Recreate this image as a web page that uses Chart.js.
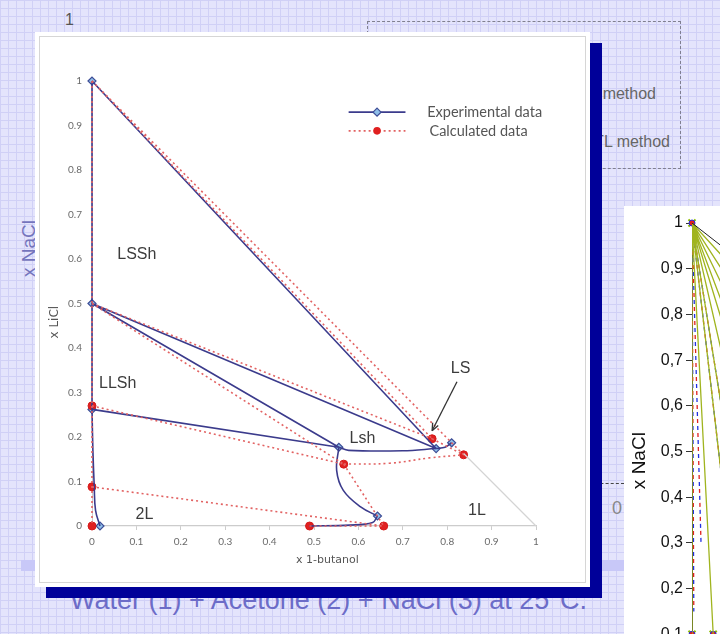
<!DOCTYPE html>
<html><head><meta charset="utf-8">
<script src="https://cdn.jsdelivr.net/npm/chart.js@4.4.0/dist/chart.umd.min.js"></script>
<style>
html,body{margin:0;padding:0;width:720px;height:634px;overflow:hidden;}
body{position:relative;background-color:#e4e4fc;
background-image:linear-gradient(to right,#d0d0f6 1px,transparent 1px),linear-gradient(to bottom,#d0d0f6 1px,transparent 1px);
background-size:8px 8px;font-family:"Liberation Sans",Arial,sans-serif;}
.abs{position:absolute;}
</style></head>
<body>
<div class="abs" style="left:3px;top:237px;width:52px;height:28px;line-height:28px;font-size:19px;color:#7474bc;transform:rotate(-90deg);white-space:nowrap;text-align:center;">x NaCl</div>
<div class="abs" style="left:65px;top:11px;font-size:16px;color:#555;">1</div>
<div class="abs" style="left:367px;top:21px;width:312px;height:146px;border:1px dashed #808090;"></div>
<div class="abs" style="left:380px;top:85px;width:276px;text-align:right;font-size:16px;color:#666;white-space:nowrap;">Direct method</div>
<div class="abs" style="left:380px;top:133px;width:290px;text-align:right;font-size:16px;color:#666;white-space:nowrap;">NRTL method</div>
<div class="abs" style="left:585px;top:483px;width:39px;height:0;border-top:1px dashed #444;"></div>
<div class="abs" style="left:612px;top:498px;font-size:18px;color:#888;">0</div>
<div class="abs" style="left:70px;top:585px;font-size:27px;color:#6c6cc8;white-space:nowrap;">Water (1) + Acetone (2) + NaCl (3) at 25°C.</div>
<div class="abs" style="left:21px;top:560px;width:603px;height:11px;background:#c8c8f8;"></div>
<div class="abs" style="left:46px;top:43px;width:556px;height:555px;background:#000099;"></div>
<div class="abs" style="left:35px;top:32px;width:555px;height:555px;background:#fff;">
  <div class="abs" style="left:4px;top:4px;width:545px;height:545px;border:1px solid #d6d6d6;"></div>
  <canvas id="main" width="555" height="555" class="abs" style="left:0;top:0;"></canvas>
</div>
<div class="abs" style="left:624px;top:206px;width:96px;height:428px;background:#fff;overflow:hidden;">
  <canvas id="side" width="560" height="520" class="abs" style="left:0;top:-1px;"></canvas>
</div>
<script>
// ---------- main chart data ----------
const tickValues = [0, 0.1, 0.2, 0.3, 0.4, 0.5, 0.6, 0.7, 0.8, 0.9, 1];
const tickLabels = ['0', '0.1', '0.2', '0.3', '0.4', '0.5', '0.6', '0.7', '0.8', '0.9', '1'];

// experimental points (x 1-butanol, x LiCl)
const expPtX = [0, 0, 0, 0.018, 0.556, 0.775, 0.81, 0.643];
const expPtY = [1, 0.5, 0.262, 0, 0.177, 0.174, 0.187, 0.0225];
// calculated points
const calPtX = [0, 0, 0, 0.567, 0.766, 0.837, 0.657, 0.49];
const calPtY = [0.27, 0.088, 0, 0.139, 0.196, 0.16, 0, 0];

// experimental straight tie-lines
const expTieX0 = [0, 0, 0, 0];
const expTieY0 = [1, 0.5, 0.5, 0.262];
const expTieX1 = [0.775, 0.775, 0.556, 0.556];
const expTieY1 = [0.174, 0.174, 0.177, 0.177];
// experimental boundaries
const expAxisX = [0, 0, 0];
const expAxisY = [1, 0.5, 0.262];
const expWaterX = [0, 0.002, 0.005, 0.008, 0.018];
const expWaterY = [0.262, 0.17, 0.09, 0.035, 0];
const expLshX = [0.556, 0.578, 0.7, 0.775];
const expLshY = [0.177, 0.17, 0.169, 0.174];
const expLSX = [0.775, 0.795, 0.81];
const expLSY = [0.174, 0.177, 0.187];
const expDownX = [0.556, 0.551, 0.566, 0.605, 0.643];
const expDownY = [0.177, 0.125, 0.08, 0.043, 0.0225];
const expBottomX = [0.643, 0.632, 0.58, 0.49];
const expBottomY = [0.0225, 0.008, 0.002, 0];

// calculated tie-lines
const calTieX0 = [0, 0, 0, 0, 0, 0];
const calTieY0 = [1, 1, 0.5, 0.5, 0.27, 0.088];
const calTieX1 = [0.766, 0.837, 0.766, 0.567, 0.567, 0.657];
const calTieY1 = [0.196, 0.16, 0.196, 0.139, 0.139, 0];
// calculated boundaries
const calAxisX = [0, 0, 0, 0, 0];
const calAxisY = [1, 0.5, 0.27, 0.088, 0];
const calCurveX = [0.567, 0.67, 0.76, 0.837];
const calCurveY = [0.139, 0.141, 0.153, 0.16];
const calLSX = [0.766, 0.837];
const calLSY = [0.196, 0.16];
const calDownX = [0.567, 0.657];
const calDownY = [0.139, 0];
const calBottomX = [0.49, 0.657];
const calBottomY = [0, 0];

// one-liquid boundary (grey)
const edgeX = [0.837, 1];
const edgeY = [0.163, 0];

const regionLabels = ['LSSh', 'LLSh', '2L', '1L', 'Lsh', 'LS'];
const regionLabelX = [0.101, 0.058, 0.118, 0.867, 0.609, 0.830];
const regionLabelY = [0.609, 0.321, 0.025, 0.034, 0.196, 0.353];

const legendNames = ['Experimental data', 'Calculated data'];

// ---------- helpers ----------
function pts(xs, ys) { return xs.map((x, i) => ({x: x, y: ys[i]})); }
function ties(x0, y0, x1, y1) {
  const out = [];
  for (let i = 0; i < x0.length; i++) {
    out.push({x: x0[i], y: y0[i]}, {x: x1[i], y: y1[i]}, {x: x1[i], y: null});
  }
  return out;
}
const expColor = '#3b3b8c';
const calColor = '#e26262';
function expLine(data, tension) {
  return {data: data, showLine: true, borderColor: expColor, borderWidth: 1.6, pointRadius: 0,
    tension: tension || 0, spanGaps: false, clip: false};
}
function calLine(data, tension) {
  return {data: data, showLine: true, borderColor: calColor, borderWidth: 1.6, borderDash: [2, 3],
    pointRadius: 0, tension: tension || 0, spanGaps: false, clip: false};
}

const annotate = {
  id: 'annotate',
  afterDatasetsDraw(chart) {
    const ctx = chart.ctx, sx = chart.scales.x, sy = chart.scales.y;
    ctx.save();
    // region labels
    ctx.fillStyle = '#3c3c3c';
    ctx.font = '16px "Liberation Sans", Arial, sans-serif';
    ctx.textAlign = 'center'; ctx.textBaseline = 'middle';
    regionLabels.forEach((t, i) => ctx.fillText(t, sx.getPixelForValue(regionLabelX[i]), sy.getPixelForValue(regionLabelY[i])));
    // LS arrow
    const ax0 = sx.getPixelForValue(0.822), ay0 = sy.getPixelForValue(0.324);
    const ax1 = sx.getPixelForValue(0.766), ay1 = sy.getPixelForValue(0.214);
    ctx.strokeStyle = '#333'; ctx.lineWidth = 1.3;
    ctx.beginPath(); ctx.moveTo(ax0, ay0); ctx.lineTo(ax1, ay1); ctx.stroke();
    const ang = Math.atan2(ay1 - ay0, ax1 - ax0);
    ctx.beginPath();
    ctx.moveTo(ax1, ay1);
    ctx.lineTo(ax1 - 8 * Math.cos(ang - 0.4), ay1 - 8 * Math.sin(ang - 0.4));
    ctx.moveTo(ax1, ay1);
    ctx.lineTo(ax1 - 8 * Math.cos(ang + 0.4), ay1 - 8 * Math.sin(ang + 0.4));
    ctx.stroke();
    // legend
    const lx0 = sx.getPixelForValue(0.578), lx1 = sx.getPixelForValue(0.706), lm = (lx0 + lx1) / 2;
    const ly1 = sy.getPixelForValue(0.930), ly2 = sy.getPixelForValue(0.888);
    ctx.strokeStyle = expColor; ctx.lineWidth = 1.6; ctx.setLineDash([]);
    ctx.beginPath(); ctx.moveTo(lx0, ly1); ctx.lineTo(lx1, ly1); ctx.stroke();
    ctx.fillStyle = '#8fbfe8'; ctx.strokeStyle = '#3d4d96'; ctx.lineWidth = 1.2;
    ctx.beginPath(); ctx.moveTo(lm, ly1 - 4); ctx.lineTo(lm + 4, ly1); ctx.lineTo(lm, ly1 + 4); ctx.lineTo(lm - 4, ly1); ctx.closePath(); ctx.fill(); ctx.stroke();
    ctx.strokeStyle = calColor; ctx.lineWidth = 1.6; ctx.setLineDash([2, 3]);
    ctx.beginPath(); ctx.moveTo(lx0, ly2); ctx.lineTo(lx1, ly2); ctx.stroke();
    ctx.setLineDash([]);
    ctx.fillStyle = '#e02020';
    ctx.beginPath(); ctx.arc(lm, ly2, 3.8, 0, Math.PI * 2); ctx.fill();
    ctx.fillStyle = '#555';
    ctx.font = '14.5px Lato, "Liberation Sans", sans-serif';
    ctx.textAlign = 'left';
    ctx.fillText(legendNames[0], sx.getPixelForValue(0.755), ly1);
    ctx.fillText(legendNames[1], sx.getPixelForValue(0.760), ly2);
    // axis titles
    ctx.fillStyle = '#555';
    ctx.font = '11px "DejaVu Sans", sans-serif';
    ctx.textAlign = 'center';
    ctx.fillText('x 1-butanol', sx.getPixelForValue(0.530), chart.chartArea.bottom + 34);
    ctx.translate(chart.chartArea.left - 37, sy.getPixelForValue(0.458));
    ctx.rotate(-Math.PI / 2);
    ctx.font = '12px "DejaVu Sans", sans-serif';
    ctx.fillText('x LiCl', 0, 0);
    ctx.restore();
  }
};

const tickFont = {family: 'Lato, "Liberation Sans", sans-serif', size: 10};
new Chart(document.getElementById('main'), {
  type: 'scatter',
  data: {datasets: [
    {data: pts(edgeX, edgeY), showLine: true, borderColor: '#d4d4d4', borderWidth: 1.2, pointRadius: 0, clip: false},
    calLine(pts(calAxisX, calAxisY)),
    calLine(ties(calTieX0, calTieY0, calTieX1, calTieY1)),
    calLine(pts(calCurveX, calCurveY), 0.4),
    calLine(pts(calLSX, calLSY)),
    calLine(pts(calDownX, calDownY)),
    calLine(pts(calBottomX, calBottomY)),
    expLine(pts(expAxisX, expAxisY)),
    expLine(pts(expWaterX, expWaterY), 0.4),
    expLine(ties(expTieX0, expTieY0, expTieX1, expTieY1)),
    expLine(pts(expLshX, expLshY), 0.35),
    expLine(pts(expLSX, expLSY), 0.3),
    expLine(pts(expDownX, expDownY), 0.4),
    expLine(pts(expBottomX, expBottomY), 0.4),
    {data: pts(calPtX, calPtY), showLine: false, pointStyle: 'circle', pointRadius: 4, pointBackgroundColor: '#e02020', pointBorderColor: '#d41a1a', pointBorderWidth: 1, clip: false},
    {data: pts(expPtX, expPtY), showLine: false, pointStyle: 'rectRot', pointRadius: 4, pointBackgroundColor: '#8fbfe8', pointBorderColor: '#3d4d96', pointBorderWidth: 1.2, clip: false}
  ]},
  options: {
    responsive: false, animation: false, devicePixelRatio: 1,
    layout: {padding: {left: 0, top: 49, right: 54, bottom: 0}},
    plugins: {legend: {display: false}, tooltip: {enabled: false}},
    scales: {
      x: {type: 'linear', min: 0, max: 1,
        afterBuildTicks: s => { s.ticks = tickValues.map(v => ({value: v})); },
        afterFit: s => { s.height = 61; },
        ticks: {callback: (v, i) => tickLabels[i], font: tickFont, color: '#6a6a6a', padding: 6, maxRotation: 0, autoSkip: false},
        grid: {display: true, drawOnChartArea: false, drawTicks: true, tickLength: 4, color: '#cccccc'},
        border: {display: true, color: '#cccccc', width: 1.2}
      },
      y: {type: 'linear', min: 0, max: 1,
        afterBuildTicks: s => { s.ticks = tickValues.map(v => ({value: v})); },
        afterFit: s => { s.width = 57; },
        ticks: {callback: (v, i) => tickLabels[i], font: tickFont, color: '#6a6a6a', padding: 10, autoSkip: false},
        grid: {display: false, drawTicks: false},
        border: {display: true, color: '#cccccc', width: 1}
      }
    }
  },
  plugins: [annotate]
});

// ---------- side (partially hidden) chart data ----------
const sideTickValues = [0, 0.1, 0.2, 0.3, 0.4, 0.5, 0.6, 0.7, 0.8, 0.9, 1];
const sideTickLabels = ['0', '0,1', '0,2', '0,3', '0,4', '0,5', '0,6', '0,7', '0,8', '0,9', '1'];
const fanEndX = [0.065, 0.065, 0.065, 0.065, 0.065, 0.065, 0.065, 0.065, 0.047, 0];
const fanEndY = [0.93, 0.9, 0.868, 0.83, 0.79, 0.72, 0.6, 0.45, 0.1, 0.1];
const fanDashEndX = [0.065, 0.065, 0.02, 0.004];
const fanDashEndY = [0.6, 0.45, 0.3, 0.15];
const fanTopX = [0.065];
const fanTopY = [0.95];
const sideMarkX = [0, 0, 0.047];
const sideMarkY = [1, 0.1, 0.1];

function fan(ex, ey) {
  const out = [];
  for (let i = 0; i < ex.length; i++) out.push({x: 0, y: 1}, {x: ex[i], y: ey[i]}, {x: ex[i], y: null});
  return out;
}
const sideTitle = {
  id: 'sideTitle',
  afterDraw(chart) {
    const ctx = chart.ctx;
    ctx.save();
    ctx.fillStyle = '#111';
    ctx.font = '19px "Liberation Sans", Arial, sans-serif';
    ctx.textAlign = 'center'; ctx.textBaseline = 'middle';
    ctx.translate(16, chart.scales.y.getPixelForValue(0.48));
    ctx.rotate(-Math.PI / 2);
    ctx.fillText('x NaCl', 0, 0);
    ctx.restore();
  }
};
new Chart(document.getElementById('side'), {
  type: 'scatter',
  data: {datasets: [
    {data: fan(fanTopX, fanTopY), showLine: true, borderColor: '#222', borderWidth: 1, pointRadius: 0, spanGaps: false},
    {data: fan(fanEndX, fanEndY), showLine: true, borderColor: '#a0b41e', borderWidth: 1.3, pointRadius: 0, spanGaps: false},
    {data: fan(fanDashEndX, fanDashEndY), showLine: true, borderColor: '#e02020', borderWidth: 1.3, borderDash: [4, 10], pointRadius: 0, spanGaps: false},
    {data: fan(fanDashEndX, fanDashEndY), showLine: true, borderColor: '#2030e0', borderWidth: 1.3, borderDash: [4, 10], borderDashOffset: 7, pointRadius: 0, spanGaps: false},
    {data: pts(sideMarkX, sideMarkY), showLine: false, pointStyle: 'circle', pointRadius: 3, pointBackgroundColor: '#e02020', pointBorderColor: '#2030e0', clip: false},
    {data: pts(sideMarkX, sideMarkY), showLine: false, pointStyle: 'crossRot', pointRadius: 5, pointBorderColor: '#8fbf00', pointBorderWidth: 2, clip: false}
  ]},
  options: {
    responsive: false, animation: false, devicePixelRatio: 1,
    layout: {padding: {left: 0, top: 18, right: 41, bottom: 45}},
    plugins: {legend: {display: false}, tooltip: {enabled: false}},
    scales: {
      x: {type: 'linear', min: 0, max: 1, display: false},
      y: {type: 'linear', min: 0, max: 1,
        afterBuildTicks: s => { s.ticks = sideTickValues.map(v => ({value: v})); },
        afterFit: s => { s.width = 68; },
        ticks: {callback: (v, i) => sideTickLabels[i], font: {family: '"Liberation Sans", Arial, sans-serif', size: 16}, color: '#111', padding: 3, autoSkip: false},
        grid: {display: true, drawOnChartArea: false, drawTicks: true, tickLength: 6, color: '#333'},
        border: {display: true, color: '#333', width: 1}
      }
    }
  },
  plugins: [sideTitle]
});
</script>
</body></html>
